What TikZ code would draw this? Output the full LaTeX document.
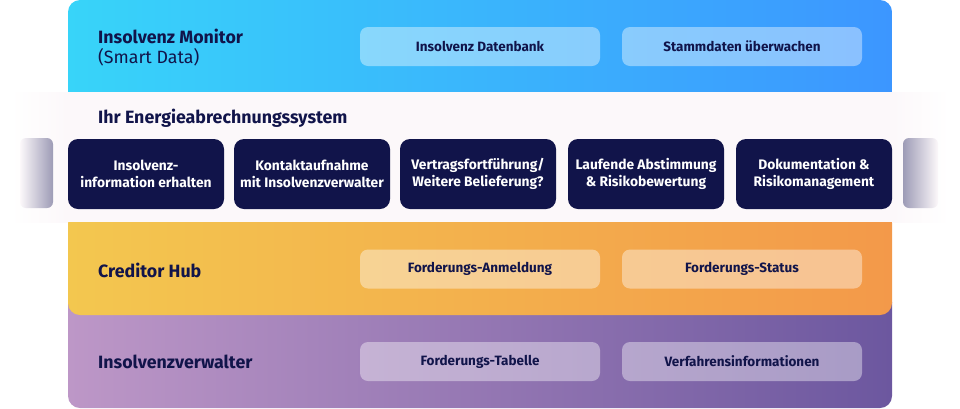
\documentclass[tikz,border=0pt]{standalone}
\usepackage{fontspec}
\setmainfont{Fira Sans}
\definecolor{navy}{HTML}{11144A}
\definecolor{blueL}{HTML}{38D4F9}
\definecolor{blueR}{HTML}{3C96FF}
\definecolor{orL}{HTML}{F3C74F}
\definecolor{orR}{HTML}{F3994A}
\definecolor{puL}{HTML}{BD97C7}
\definecolor{puR}{HTML}{6C579F}
\definecolor{band}{HTML}{FCF8FA}
\definecolor{tabgray}{HTML}{9D9BB6}
\begin{document}
\begin{tikzpicture}[x=1pt,y=-1pt,
  pill/.style={fill=white, fill opacity=0.4, text opacity=1, rounded corners=8pt,
    minimum width=240pt, minimum height=39pt, inner sep=0pt, text=navy,
    font=\bfseries\fontsize{13.5}{15}\selectfont},
  stepbox/.style={fill=navy, rounded corners=10pt, minimum width=156pt,
    minimum height=70pt, inner sep=0pt, text=white, align=center,
    font=\bfseries\fontsize{13.8}{16.5}\selectfont},
  title/.style={anchor=west, inner sep=0pt, text=navy, align=left,
    font=\bfseries\fontsize{17.8}{21}\selectfont},
  tab/.style={rounded corners=6pt}
]
\useasboundingbox (0,0) rectangle (960,408);
% panels
\path[rounded corners=12pt, left color=blueL, right color=blueR] (68,0) rectangle (892,110);
\path[rounded corners=12pt, left color=puL, right color=puR] (68,290) rectangle (892,408);
\path[rounded corners=12pt, left color=orL, right color=orR] (68,200) rectangle (892,315);
% middle band
\fill[band] (68,92) rectangle (892,222);
\path[left color=white, right color=band] (10,92) rectangle (68,222);
\path[left color=band, right color=white] (892,92) rectangle (950,222);
% side tabs
\path[tab, left color=band, right color=tabgray] (20,138) rectangle (53,208);
\path[tab, left color=tabgray, right color=band] (903,138) rectangle (938,208);
% titles
\node[title] (t1) at (98,47.5) {Insolvenz Monitor\\[-0.5pt]{\mdseries (Smart Data)}};
\node[title] (t2) at (98,118) {Ihr Energieabrechnungssystem};
\node[title] (t3) at (98,270) {Creditor Hub};
\node[title] (t4) at (98,362) {Insolvenzverwalter};
% pills
\node[pill] (p1) at (480,46.5) {Insolvenz Datenbank};
\node[pill] (p2) at (742,46.5) {Stammdaten überwachen};
\node[pill] (p3) at (480,269) {Forderungs-Anmeldung};
\node[pill] (p4) at (742,269) {Forderungs-Status};
\node[pill] (p5) at (480,361.5) {Forderungs-Tabelle};
\node[pill] (p6) at (742,361.5) {Verfahrensinformationen};
% steps
\node[stepbox] (s1) at (146,174) {Insolvenz-\\information erhalten};
\node[stepbox] (s2) at (312,174) {Kontaktaufnahme\\mit Insolvenzverwalter};
\node[stepbox] (s3) at (478,174) {Vertragsfortführung/\\Weitere Belieferung?};
\node[stepbox] (s4) at (646,174) {Laufende Abstimmung\\\& Risikobewertung};
\node[stepbox] (s5) at (814,174) {Dokumentation \&\\Risikomanagement};
\end{tikzpicture}
\end{document}
